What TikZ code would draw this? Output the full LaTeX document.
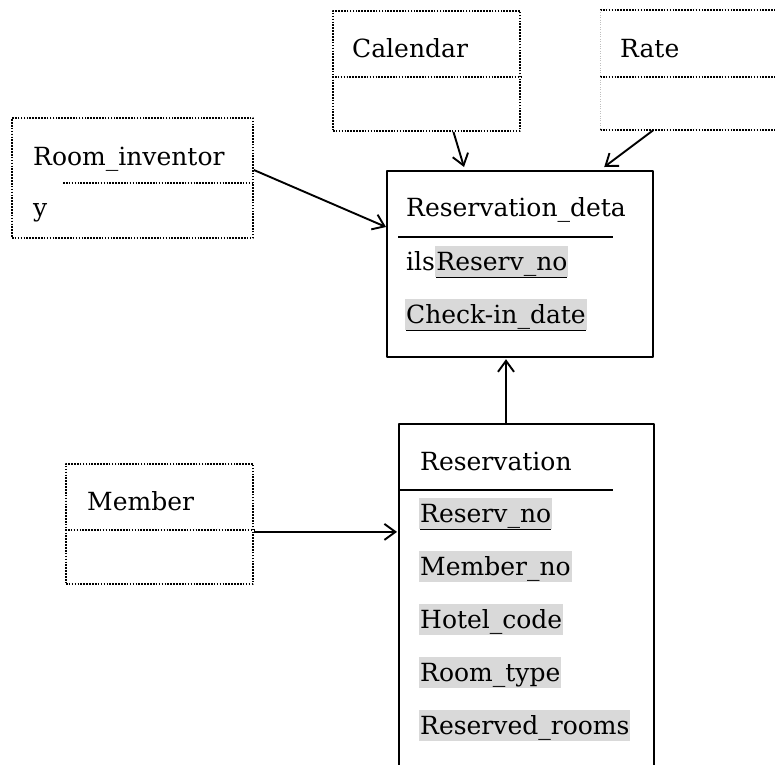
\documentclass[tikz,border=0pt]{standalone}
\usepackage{fontspec}
\setmainfont{DejaVu Serif}
\usetikzlibrary{calc,arrows.meta}
\definecolor{hl}{RGB}{217,217,217}

\begin{document}
\begin{tikzpicture}[x=1pt,y=-1pt,line join=round,
  font=\fontsize{25}{30}\selectfont,
  entbox/.style={draw,line width=1.9pt,dash pattern=on 1.6pt off 1.3pt,rectangle,inner sep=0pt,anchor=north west},
  tabbox/.style={draw,line width=2.2pt,rectangle,inner sep=0pt,anchor=north west},
  dotline/.style={line width=1.9pt,dash pattern=on 1.6pt off 1.3pt},
  txt/.style={anchor=base west,inner sep=0pt},
  hltxt/.style={txt,fill=hl,inner xsep=1pt,inner ysep=2pt,text height=22pt,text depth=5pt},
  conn/.style={line width=1.9pt,-{Straight Barb[length=11pt,width=16pt,line width=1.9pt]}}]
\useasboundingbox (0,0) rectangle (775,764);
% entity boxes
\node[entbox,minimum width=241pt,minimum height=120pt] (rinv) at (11,117) {};
\node[entbox,minimum width=187pt,minimum height=120pt] (cal) at (332,10) {};
\node[rectangle,inner sep=0pt,anchor=north west,minimum width=190pt,minimum height=120pt] (rate) at (600,10) {};
\node[entbox,minimum width=187pt,minimum height=120pt] (mem) at (65,463) {};
\node[tabbox,minimum width=266pt,minimum height=186pt] (det) at (386,170) {};
\node[tabbox,minimum width=255pt,minimum height=360pt] (res) at (398,423) {};
% rate box is cut at the right
\draw[dotline] (rate.north west) -- (rate.north east) (rate.south west) -- (rate.south east);
\draw[dotline] ($(rate.north west)+(0,67)$) -- ($(rate.north east)+(0,67)$);
\draw[gray!50,thin,dotted] (rate.north west) -- (rate.south west);
% dividers
\draw[dotline] (63,183) -- ($(rinv.north east)+(0,66)$);
\draw[dotline] ($(cal.north west)+(0,67)$) -- ($(cal.north east)+(0,67)$);
\draw[dotline] ($(mem.north west)+(0,67)$) -- ($(mem.north east)+(0,67)$);
\draw[line width=2.1pt] ($(det.north west)+(12,67)$) -- +(215,0);
\draw[line width=2.1pt] ($(res.north west)+(0,67)$) -- +(215,0);
% texts
\node[txt] (trinv) at (33,165) {Room\_inventor};
\node[txt] (trinvy) at (33,216) {y};
\node[txt] (tcal) at (352,57) {Calendar};
\node[txt] (trate) at (620,57) {Rate};
\node[txt] (tmem) at (87,510) {Member};
\node[txt] (tdet) at (406,216) {Reservation\_deta};
\node[txt] (tils) at (406,270) {ils};
\node[hltxt,anchor=base west] (dres) at (tils.base east) {\underline{Reserv\_no}};
\node[hltxt] (dchk) at (405,323) {\underline{Check-in\_date}};
\node[txt] (tres) at (420,470) {Reservation};
\foreach \n/\t [count=\k from 0] in {rno/\underline{Reserv\_no},mno/Member\_no,hcode/Hotel\_code,rtype/Room\_type,rrooms/Reserved\_rooms}
  \node[hltxt] (\n) at (419,522+53*\k) {\t};
% connectors
\coordinate (memout) at ($(mem.south east)+(0,-53)$);
\draw[conn] ($(rinv.north east)+(0,53)$) -- ($(det.north west)+(0,57)$);
\draw[conn] ($(cal.south)+(27,0)$) -- ($(det.north west)+(78,-3)$);
\draw[conn] ($(rate.south west)+(53,0)$) -- ($(det.north east)+(-50,-3)$);
\draw[conn] (memout) -- ($(res.west |- memout)+(-1,0)$);
\draw[conn] ($(res.north west)+(108,0)$) -- ($(det.south west)+(120,1)$);
\end{tikzpicture}
\end{document}
